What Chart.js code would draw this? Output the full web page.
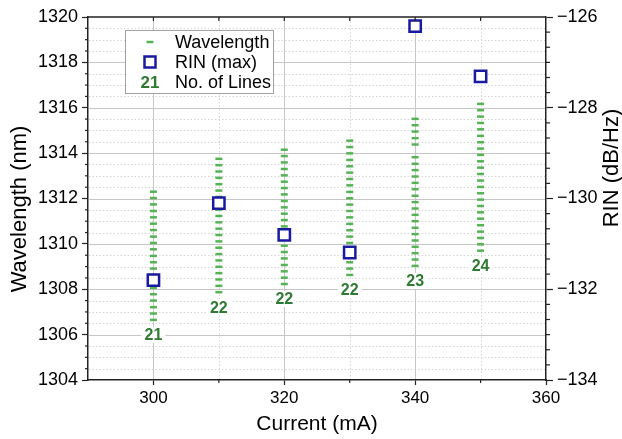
<!DOCTYPE html>
<html><head><meta charset="utf-8">
<script src="https://cdn.jsdelivr.net/npm/chart.js@4.4.1/dist/chart.umd.min.js"></script>
<style>html,body{margin:0;padding:0;background:#fff}#wrap{width:622px;height:439px}</style>
</head><body><div id="wrap"><canvas id="c" width="622" height="439"></canvas></div>
<script>
// ---- data ----
const currents = [300, 310, 320, 330, 340, 350];
const wl300 = [1312.30,1312.02,1311.74,1311.45,1311.17,1310.89,1310.61,1310.32,1310.04,1309.76,1309.47,1309.19,1308.91,1308.63,1308.34,1308.06,1307.78,1307.50,1307.21,1306.93,1306.65];
const wl310 = [1313.75,1313.47,1313.19,1312.91,1312.63,1312.35,1312.07,1311.79,1311.51,1311.23,1310.95,1310.67,1310.39,1310.11,1309.83,1309.55,1309.27,1308.99,1308.71,1308.43,1308.15,1307.87];
const wl320 = [1314.15,1313.87,1313.59,1313.30,1313.02,1312.74,1312.46,1312.18,1311.89,1311.61,1311.33,1311.05,1310.77,1310.48,1310.20,1309.92,1309.64,1309.36,1309.07,1308.79,1308.51,1308.23];
const wl330 = [1314.55,1314.27,1313.99,1313.70,1313.42,1313.14,1312.86,1312.58,1312.29,1312.01,1311.73,1311.45,1311.17,1310.88,1310.60,1310.32,1310.04,1309.76,1309.47,1309.19,1308.91,1308.63];
const wl340 = [1315.51,1315.23,1314.95,1314.66,1314.38,1313.82,1313.53,1313.25,1312.97,1312.69,1312.41,1312.12,1311.84,1311.56,1311.28,1311.00,1310.71,1310.43,1310.15,1309.87,1309.59,1309.31,1309.03];
const wl350 = [1316.17,1315.89,1315.61,1315.33,1315.05,1314.76,1314.48,1314.20,1313.92,1313.64,1313.36,1313.08,1312.79,1312.51,1312.23,1311.95,1311.67,1311.39,1311.11,1310.82,1310.54,1310.26,1309.98,1309.70];
const rinMax = [-131.80, -130.10, -130.80, -131.19, -126.20, -127.31];
const lineCounts = [21, 22, 22, 22, 23, 24];
const xTickValues = [300, 320, 340, 360];
const yTickValues = [1304, 1306, 1308, 1310, 1312, 1314, 1316, 1318, 1320];
const rinTickValues = [-134, -132, -130, -128, -126];

// ---- build ----
const wlSets = [wl300, wl310, wl320, wl330, wl340, wl350];
const wlPoints = [];
wlSets.forEach((arr, i) => arr.forEach(v => wlPoints.push({x: currents[i], y: v})));
const rinPoints = currents.map((c, i) => ({x: c, y: rinMax[i]}));

const GREEN = '#55b255';
const DKGREEN = '#2f7a32';
const BLUE = '#1a1aa0';
const FONT = '"Liberation Sans", Arial, sans-serif';
Chart.defaults.font.family = FONT;
Chart.defaults.color = '#000';

function vText(ctx, text, x, y, size) {
  ctx.save();
  ctx.translate(x, y);
  ctx.rotate(-Math.PI / 2);
  ctx.font = size + 'px ' + FONT;
  ctx.fillStyle = '#000';
  ctx.textAlign = 'center';
  ctx.textBaseline = 'middle';
  ctx.fillText(text, 0, 0);
  ctx.restore();
}

const bgGrid = {
  id: 'bgGrid',
  beforeDraw(chart) {
    const {ctx, chartArea: a, scales} = chart;
    const xs = scales.x, ys = scales.y;
    ctx.save();
    ctx.fillStyle = '#fff';
    ctx.fillRect(0, 0, chart.width, chart.height);
    ctx.lineWidth = 1;
    ctx.strokeStyle = '#d4d4d4';
    ctx.setLineDash([1.5, 2]);
    for (let v = 1304.5; v < 1320; v += 0.5) {
      if (Math.abs(v / 2 - Math.round(v / 2)) < 1e-6) continue;
      const p = Math.round(ys.getPixelForValue(v)) + 0.5;
      ctx.beginPath(); ctx.moveTo(a.left + 1, p); ctx.lineTo(a.right - 1, p); ctx.stroke();
    }
    for (let v = 310; v < 360; v += 20) {
      const p = Math.round(xs.getPixelForValue(v)) + 0.5;
      ctx.beginPath(); ctx.moveTo(p, a.top + 1); ctx.lineTo(p, a.bottom - 1); ctx.stroke();
    }
    ctx.setLineDash([]);
    ctx.strokeStyle = '#c6c6c6';
    for (let v = 1306; v < 1320; v += 2) {
      const p = Math.round(ys.getPixelForValue(v)) + 0.5;
      ctx.beginPath(); ctx.moveTo(a.left + 1, p); ctx.lineTo(a.right - 1, p); ctx.stroke();
    }
    for (let v = 300; v < 360; v += 20) {
      const p = Math.round(xs.getPixelForValue(v)) + 0.5;
      ctx.beginPath(); ctx.moveTo(p, a.top + 1); ctx.lineTo(p, a.bottom - 1); ctx.stroke();
    }
    ctx.restore();
  },
  afterDraw(chart) {
    const {ctx, chartArea: a, scales} = chart;
    const xs = scales.x, ys = scales.y, y1 = scales.y1;
    ctx.save();
    ctx.strokeStyle = '#222';
    ctx.lineWidth = 1.5;
    ctx.beginPath(); ctx.moveTo(a.left, a.top); ctx.lineTo(a.right, a.top); ctx.stroke();
    ctx.lineWidth = 1.2;
    for (let v = 1304.5; v < 1320; v += 0.5) {
      if (Math.abs(v / 2 - Math.round(v / 2)) < 1e-6) continue;
      const p = ys.getPixelForValue(v);
      ctx.beginPath(); ctx.moveTo(a.left, p); ctx.lineTo(a.left - 3, p); ctx.stroke();
    }
    for (let k = 0; k < 24; k++) {
      if (k % 6 === 0) continue;
      const p = y1.getPixelForValue(-134 + k / 3);
      ctx.beginPath(); ctx.moveTo(a.right, p); ctx.lineTo(a.right + 4, p); ctx.stroke();
    }
    for (let v = 300; v < 360; v += 10) {
      const p = xs.getPixelForValue(v);
      if ((v / 10) % 2 === 1) { ctx.beginPath(); ctx.moveTo(p, a.bottom); ctx.lineTo(p, a.bottom + 3); ctx.stroke(); }
      ctx.beginPath(); ctx.moveTo(p, a.top); ctx.lineTo(p, a.top + 4); ctx.stroke();
    }
    ctx.restore();

    // axis titles (vertical)
    vText(ctx, 'Wavelength (nm)', 20, 209, 22);
    vText(ctx, 'RIN (dB/Hz)', 612, 168, 22);

    // legend
    ctx.save();
    const lx = a.left + 37, ly = a.top + 13;
    ctx.fillStyle = '#fff';
    ctx.fillRect(lx, ly, 148, 63);
    ctx.strokeStyle = '#a0a0a0';
    ctx.lineWidth = 1;
    ctx.strokeRect(lx + 0.5, ly + 0.5, 148, 63);
    const sx = lx + 25, tx = lx + 50;
    const rows = [ly + 12, ly + 32, ly + 52];
    ctx.strokeStyle = GREEN; ctx.lineWidth = 2.5;
    ctx.beginPath(); ctx.moveTo(sx - 3.5, rows[0]); ctx.lineTo(sx + 3.5, rows[0]); ctx.stroke();
    ctx.strokeStyle = BLUE; ctx.lineWidth = 2.5;
    ctx.strokeRect(sx - 5.5, rows[1] - 5.5, 11, 11);
    ctx.font = 'bold 17px ' + FONT;
    ctx.fillStyle = DKGREEN; ctx.textAlign = 'center'; ctx.textBaseline = 'middle';
    ctx.fillText(String(lineCounts[0]), sx, rows[2] + 1);
    ctx.font = '18px ' + FONT; ctx.fillStyle = '#000'; ctx.textAlign = 'left';
    ctx.fillText('Wavelength', tx, rows[0] + 1);
    ctx.fillText('RIN (max)', tx, rows[1] + 1);
    ctx.fillText('No. of Lines', tx, rows[2] + 1);
    ctx.restore();
  },
  afterDatasetsDraw(chart) {
    const {ctx, scales} = chart;
    ctx.save();
    ctx.font = 'bold 16px ' + FONT;
    ctx.textAlign = 'center';
    ctx.textBaseline = 'middle';
    currents.forEach((c, i) => {
      const x = scales.x.getPixelForValue(c);
      const y = scales.y.getPixelForValue(Math.min(...wlSets[i])) + 15;
      const t = String(lineCounts[i]);
      const w = ctx.measureText(t).width;
      ctx.fillStyle = '#fff';
      ctx.fillRect(x - w / 2 - 3, y - 8, w + 6, 16);
      ctx.fillStyle = DKGREEN;
      ctx.fillText(t, x, y + 1);
    });
    ctx.restore();
  }
};

new Chart(document.getElementById('c'), {
  type: 'scatter',
  data: {
    datasets: [
      {label: 'RIN (max)', data: rinPoints, yAxisID: 'y1', order: 0,
       pointStyle: 'rect', pointRadius: 8, pointBorderWidth: 2.5, borderColor: BLUE, backgroundColor: '#fff',
       pointBackgroundColor: '#fff', pointBorderColor: BLUE, showLine: false},
      {label: 'Wavelength', data: wlPoints, yAxisID: 'y', order: 1,
       pointStyle: 'line', pointRadius: 3.5, pointBorderWidth: 2.5, borderColor: GREEN, pointBorderColor: GREEN, showLine: false}
    ]
  },
  options: {
    responsive: false,
    animation: false,
    layout: {padding: {top: 17, left: 0, right: 0, bottom: 0}},
    plugins: {legend: {display: false}, tooltip: {enabled: false}},
    scales: {
      x: {
        type: 'linear', position: 'bottom', min: 290, max: 360,
        afterBuildTicks: s => { s.ticks = xTickValues.map(v => ({value: v})); },
        afterFit: s => { s.height = 59; },
        grid: {drawOnChartArea: false, tickLength: 5, tickColor: '#222', tickWidth: 1.2},
        border: {color: '#222', width: 1.5},
        ticks: {font: {size: 17}, color: '#000', padding: 3, maxRotation: 0, callback: v => String(v)},
        title: {display: true, text: 'Current (mA)', font: {size: 21}, color: '#000', padding: {top: 0, bottom: 2}}
      },
      y: {
        type: 'linear', position: 'left', min: 1304, max: 1320,
        afterBuildTicks: s => { s.ticks = yTickValues.map(v => ({value: v})); },
        afterFit: s => { s.width = 88; },
        grid: {drawOnChartArea: false, tickLength: 6, tickColor: '#222', tickWidth: 1.2},
        border: {color: '#222', width: 1.5},
        ticks: {font: {size: 18}, color: '#000', padding: 4, callback: v => String(v)}
      },
      y1: {
        type: 'linear', position: 'right', min: -134, max: -126,
        afterBuildTicks: s => { s.ticks = rinTickValues.map(v => ({value: v})); },
        afterFit: s => { s.width = 76; },
        grid: {drawOnChartArea: false, tickLength: 7, tickColor: '#222', tickWidth: 1.2},
        border: {color: '#222', width: 1.5},
        ticks: {font: {size: 18}, color: '#000', padding: 4, callback: v => (v < 0 ? '\u2212' : '') + Math.abs(v)}
      }
    }
  },
  plugins: [bgGrid]
});
</script>
</body></html>
